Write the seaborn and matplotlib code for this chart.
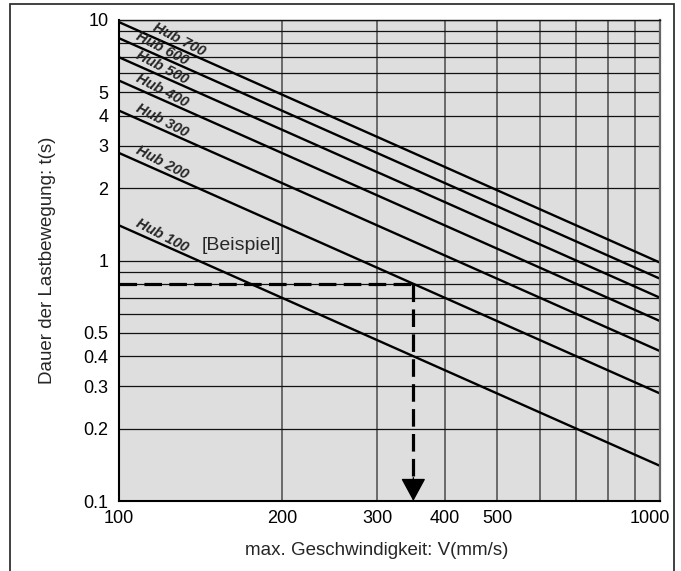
import numpy as np
import pandas as pd
import matplotlib
matplotlib.use("Agg")
import matplotlib.pyplot as plt
import seaborn as sns
from matplotlib.ticker import FixedLocator, FixedFormatter, NullFormatter
from matplotlib.transforms import ScaledTranslation
from matplotlib.patches import Rectangle

# Stroke curves: transfer time at 100 mm/s and at 1000 mm/s
strokes = [100, 200, 300, 400, 500, 600, 700]
speed_ends = [100, 1000]
t_at_100 = [1.4, 2.8, 4.2, 5.6, 7.0, 8.4, 9.8]
t_at_1000 = [0.14, 0.28, 0.42, 0.56, 0.70, 0.84, 0.98]
label_speed = [120, 120, 120, 120, 120, 120, 129]

# Worked example (Hub 100, 0.8 s -> 350 mm/s)
example_speed = 350
example_time = 0.8

x_major = [100, 200, 300, 400, 500, 1000]
x_minor = [600, 700, 800, 900]
y_major = [0.1, 0.2, 0.3, 0.4, 0.5, 1, 2, 3, 4, 5, 10]
y_minor = [0.6, 0.7, 0.8, 0.9, 6, 7, 8, 9]

rows = []
for h, a, b in zip(strokes, t_at_100, t_at_1000):
    rows.append({"Hub": h, "V": speed_ends[0], "t": a})
    rows.append({"Hub": h, "V": speed_ends[1], "t": b})
df = pd.DataFrame(rows)

sns.set_theme(style="white")
plt.rcParams["font.family"] = ["Liberation Sans", "DejaVu Sans"]

fig = plt.figure(figsize=(6.81, 5.71), dpi=100)
ax = fig.add_axes([119 / 681, 1 - 501 / 571, (660 - 119) / 681, (501 - 20) / 571])
ax.set_facecolor("#dedede")

sns.lineplot(data=df, x="V", y="t", hue="Hub", units="Hub", estimator=None,
             palette=["black"] * len(strokes), legend=False, lw=1.7, ax=ax)

ax.set_xscale("log")
ax.set_yscale("log")
ax.set_xlim(100, 1000)
ax.set_ylim(0.1, 10)

ax.xaxis.set_major_locator(FixedLocator(x_major))
ax.xaxis.set_major_formatter(FixedFormatter([str(v) for v in x_major]))
ax.xaxis.set_minor_locator(FixedLocator(x_minor))
ax.xaxis.set_minor_formatter(NullFormatter())
ax.yaxis.set_major_locator(FixedLocator(y_major))
ax.yaxis.set_major_formatter(FixedFormatter([f"{v:g}" for v in y_major]))
ax.yaxis.set_minor_locator(FixedLocator(y_minor))
ax.yaxis.set_minor_formatter(NullFormatter())

ax.tick_params(which="both", length=0, labelsize=13, colors="black")
ax.tick_params(axis="x", pad=6.5)
ax.tick_params(axis="y", pad=7.5)

ax.set_axisbelow(True)
ax.grid(axis="x", which="both", color="#4a4a4a", lw=1.1)
ax.grid(axis="y", which="both", color="#111111", lw=0.9)

for side in ["left", "bottom"]:
    ax.spines[side].set_color("black")
    ax.spines[side].set_linewidth(1.5)
ax.spines["top"].set_color("#111111")
ax.spines["top"].set_linewidth(1.0)
ax.spines["right"].set_color("#666666")
ax.spines["right"].set_linewidth(1.6)

# shift the last x label inward so it stays inside the frame
for lbl in ax.get_xticklabels():
    if lbl.get_text() == "1000":
        lbl.set_transform(lbl.get_transform() + ScaledTranslation(-0.1, 0, fig.dpi_scale_trans))

ax.set_xlabel("max. Geschwindigkeit: V(mm/s)", fontsize=13.5, labelpad=11, x=0.476)
ax.set_ylabel("Dauer der Lastbewegung: t(s)", fontsize=13.5, labelpad=20)

# Stroke labels along each line
fig.canvas.draw()
for h, a, b, vs in zip(strokes, t_at_100, t_at_1000, label_speed):
    p1 = ax.transData.transform((speed_ends[0], a))
    p2 = ax.transData.transform((speed_ends[1], b))
    ang = np.degrees(np.arctan2(p2[1] - p1[1], p2[0] - p1[0]))
    slope = np.log(b / a) / np.log(speed_ends[1] / speed_ends[0])
    t_line = a * (vs / speed_ends[0]) ** slope
    ax.annotate(f"Hub {h}", xy=(vs, t_line), xytext=(0, 6.5), textcoords="offset points",
                ha="center", va="center", rotation=ang - 3.5, rotation_mode="anchor",
                fontsize=10.5, fontweight="bold", fontstyle="italic")

ax.annotate("[Beispiel]", xy=(168, 1.15), ha="center", va="center", fontsize=14)

# Example reading: dashed guide with arrow down to the speed axis
ax.plot([100, example_speed], [example_time, example_time], color="black",
        lw=2.3, ls=(0, (5.5, 2.3)), dash_capstyle="butt", zorder=4)
ax.plot([example_speed, example_speed], [example_time, 0.115], color="black",
        lw=2.3, ls=(0, (5.5, 2.3)), dash_capstyle="butt", zorder=4)
ax.annotate("", xy=(example_speed, 0.1), xytext=(example_speed, 0.125),
            arrowprops=dict(arrowstyle="-|>,head_length=1.2,head_width=0.65",
                            color="black", lw=1, shrinkA=0, shrinkB=0), zorder=5)

# outer frame
fig.patches.append(Rectangle((10 / 681, -0.02), 664 / 681, 1.02 - 4 / 571,
                             transform=fig.transFigure, fill=False,
                             edgecolor="#333333", lw=1.3))

fig.savefig("out.png", dpi=100)
